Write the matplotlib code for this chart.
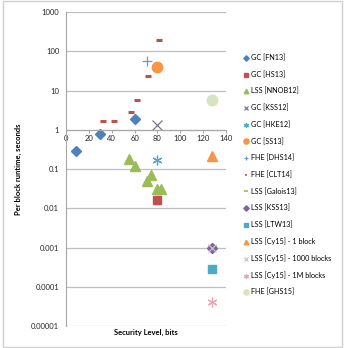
import numpy as np
import matplotlib.pyplot as plt
from matplotlib.patches import Rectangle

plt.rcParams['font.family'] = ['Lato', 'DejaVu Sans']

# series: (label, x values, y values)
fn13_x = [9, 30, 60]
fn13_y = [0.29, 0.8, 1.85]
hs13_x = [80]
hs13_y = [0.016]
nnob12_x = [55, 60, 71, 74, 80, 83]
nnob12_y = [0.18, 0.12, 0.05, 0.07, 0.031, 0.031]
kss12_x = [80]
kss12_y = [1.35]
hke12_x = [80]
hke12_y = [0.17]
ss13_x = [80]
ss13_y = [40]
dhs14_x = [71]
dhs14_y = [55]
clt14_x = [32, 42, 57, 62, 72, 81]
clt14_y = [1.7, 1.7, 2.9, 5.9, 23, 195]
galois13_x = [128]
galois13_y = [0.0011]
kss13_x = [128]
kss13_y = [0.001]
ltw13_x = [128]
ltw13_y = [0.00029]
cy15_1_x = [128]
cy15_1_y = [0.22]
cy15_1000_x = [128]
cy15_1000_y = [0.001]
cy15_1m_x = [128]
cy15_1m_y = [0.00004]
ghs15_x = [128]
ghs15_y = [5.7]

asterisk = (6, 2, 0)

series = [
    ('GC [FN13]', fn13_x, fn13_y, 'D', '#4F81BD', 5.5),
    ('GC [HS13]', hs13_x, hs13_y, 's', '#C0504D', 5.5),
    ('LSS [NNOB12]', nnob12_x, nnob12_y, '^', '#9BBB59', 6.5),
    ('GC [KSS12]', kss12_x, kss12_y, 'x', '#7F7490', 7),
    ('GC [HKE12]', hke12_x, hke12_y, asterisk, '#4BACC6', 7),
    ('GC [SS13]', ss13_x, ss13_y, 'o', '#F79646', 7.5),
    ('FHE [DHS14]', dhs14_x, dhs14_y, '+', '#6A9BD4', 7),
    ('FHE [CLT14]', clt14_x, clt14_y, '_', '#C0504D', 4),
    ('LSS [Galois13]', galois13_x, galois13_y, '_', '#9BBB59', 6),
    ('LSS [KSS13]', kss13_x, kss13_y, 'D', '#8064A2', 5.5),
    ('LSS [LTW13]', ltw13_x, ltw13_y, 's', '#4BACC6', 5.5),
    ('LSS [Cy15] - 1 block', cy15_1_x, cy15_1_y, '^', '#F79646', 6.5),
    ('LSS [Cy15] - 1000 blocks', cy15_1000_x, cy15_1000_y, 'x', '#C9C0D6', 6),
    ('LSS [Cy15] - 1M blocks', cy15_1m_x, cy15_1m_y, asterisk, '#E6A9B4', 7),
    ('FHE [GHS15]', ghs15_x, ghs15_y, 'o', '#D7E4BD', 7.5),
]

fig = plt.figure(figsize=(3.48, 3.48), dpi=100)
ax = fig.add_axes([0.19, 0.063, 0.459, 0.9025])

for label, xs, ys, m, c, ms in series:
    lw = 1.0
    if m == '_':
        lw = 2.2
    elif m in ('x', '+', asterisk):
        lw = 0.9
    ax.plot(xs, ys, linestyle='none', marker=m, color=c, markersize=ms,
            markeredgewidth=lw, markeredgecolor=c, label=label)

ax.set_yscale('log')
ax.set_xlim(0, 140)
ax.set_ylim(0.00001, 1000)
ax.set_xticks(np.arange(0, 141, 20))
ax.set_yticks([1e-5, 1e-4, 1e-3, 1e-2, 1e-1, 1, 10, 100, 1000])
ax.set_yticklabels(['0.00001', '0.0001', '0.001', '0.01', '0.1', '1', '10', '100', '1000'])
ax.yaxis.set_minor_locator(plt.NullLocator())
ax.grid(axis='y', color='#BFBFBF', linewidth=0.9)
ax.set_axisbelow(True)

ax.spines['top'].set_visible(False)
ax.spines['right'].set_visible(False)
ax.spines['bottom'].set_position(('data', 1))
ax.spines['bottom'].set_color('#A6A6A6')
ax.spines['left'].set_color('#A6A6A6')
ax.tick_params(axis='y', length=0, pad=5, labelsize=5.5, colors='#262626')
ax.tick_params(axis='x', length=2.5, width=0.8, color='#A6A6A6', pad=1,
               labelsize=5.5, labelcolor='#262626')

fig.text(0.052, 0.514, 'Per block runtime, seconds', rotation=90, fontsize=5.5,
         fontweight='bold', ha='center', va='center')
fig.text(0.42, 0.046, 'Security Level, bits', fontsize=5.5,
         fontweight='bold', ha='center', va='center')

leg = fig.legend(loc='upper left', bbox_to_anchor=(0.703, 0.845), frameon=False,
                 fontsize=5.2, handlelength=0.5, handletextpad=0.35, labelspacing=1.28,
                 borderpad=0, borderaxespad=0, markerscale=0.5)
for h in leg.legend_handles:
    if h.get_marker() == '_':
        h.set_markeredgewidth(1.2)

fig.patches.append(Rectangle((0.008, 0.002), 0.975, 0.994, transform=fig.transFigure,
                             fill=False, edgecolor='#D0D0D0', linewidth=1.0))

fig.savefig('out.png', dpi=100)
